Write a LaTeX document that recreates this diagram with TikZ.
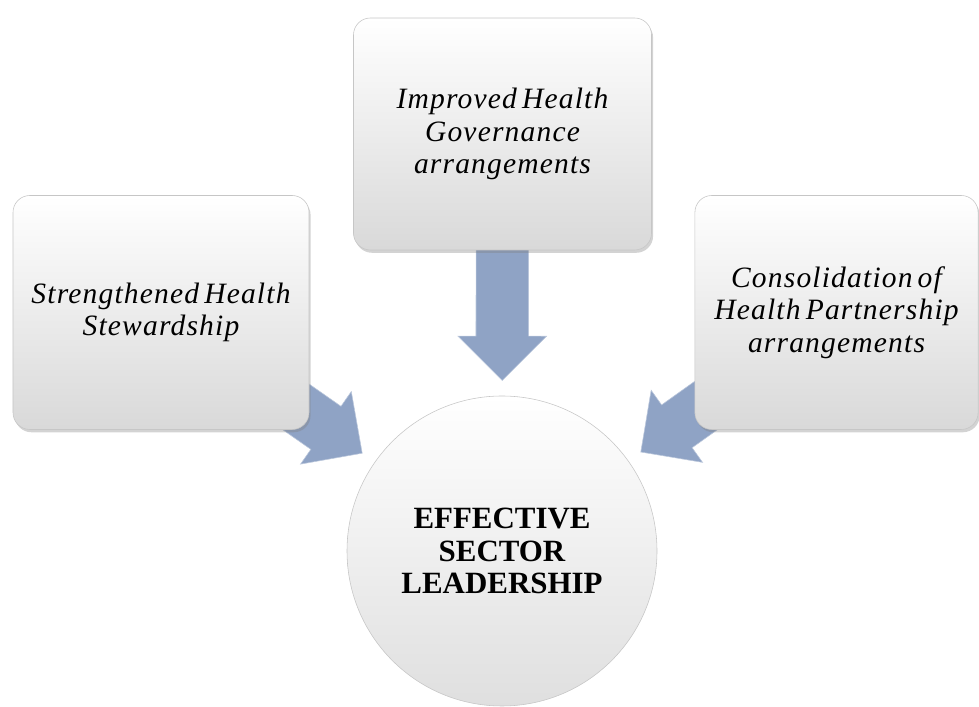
\documentclass[tikz,border=0pt]{standalone}
\usepackage{fontspec}
\setmainfont{Liberation Serif}
\newfontfamily\boxfont[LetterSpace=4,WordSpace=0.6]{Liberation Serif}
\usetikzlibrary{shapes.arrows,shadows,backgrounds}
\definecolor{arrowblue}{HTML}{8FA3C5}

\begin{document}
\begin{tikzpicture}[
        box/.style={rounded corners=12pt,draw=gray!45,top color=white,bottom color=gray!30,
            drop shadow={opacity=.35,shadow xshift=.04cm,shadow yshift=-.07cm},
            minimum width=7.4cm,minimum height=5.85cm,align=center,
            font=\boxfont\itshape\fontsize{21}{23}\selectfont},
        blockarrow/.style={single arrow,single arrow head extend=.45cm,inner xsep=0pt,inner ysep=.65cm,
            minimum width=0pt,minimum height=3.6cm,fill=arrowblue,draw=arrowblue!60!white,anchor=tip}
    ]
            \useasboundingbox (0,0) rectangle (24.475,17.675);

            \node[box] (S) at (4.025, 9.8625) {Strengthened Health\\ Stewardship};
            \node[box,minimum width=7.45cm,minimum height=5.8cm] (G) at (12.5625, 14.325) {Improved Health\\ Governance\\ arrangements};
            \node[box,minimum width=7.08cm] (P) at (20.9125, 9.8625) {Consolidation of\\ Health Partnership\\ arrangements};
            \node[circle,draw=gray!45,top color=white,bottom color=gray!25,minimum size=7.75cm,align=center,
                font=\bfseries\fontsize{22}{23}\selectfont] (L) at (12.55, 3.9) {EFFECTIVE\\ SECTOR\\ LEADERSHIP};

            % arrows go under the boxes
            \begin{scope}[on background layer]
            \path (S.center) -- (L.center) node[blockarrow,pos=.591,sloped,allow upside down] {};
            \path (G.center) -- (L.center) node[blockarrow,pos=.592,sloped,allow upside down] {};
            \path (P.center) -- (L.center) node[blockarrow,pos=.586,sloped,allow upside down] {};
            \end{scope}
        \end{tikzpicture}
\end{document}
